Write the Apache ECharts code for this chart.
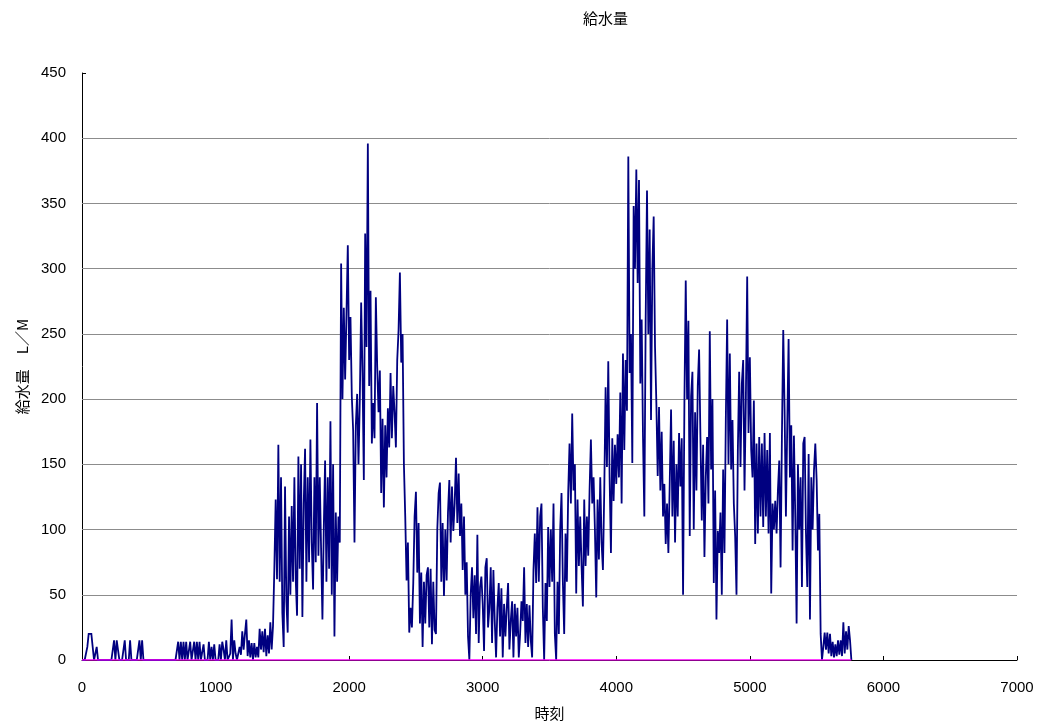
<!DOCTYPE html>
<html>
<head>
<meta charset="utf-8">
<script src="https://cdn.jsdelivr.net/npm/echarts@6/dist/echarts.min.js"></script>
<style>
  html, body { margin: 0; padding: 0; background: #fff; }
  #chart { width: 1042px; height: 727px; }
</style>
</head>
<body>
<div id="chart"></div>
<script>
// Supply water flow (L/M), sampled every STEP seconds of the time axis
const STEP = 10;
const flow = [
  0,0,0,0,10,20,20,20,20,0,
  0,10,0,0,0,0,0,0,0,0,
  0,0,0,0,15,0,15,15,0,0,
  0,0,15,0,0,0,15,0,0,0,
  0,0,0,15,0,15,0,0,0,0,
  0,0,0,0,0,0,0,0,0,0,
  0,0,0,0,0,0,0,0,0,0,
  0,0,14,0,14,0,14,0,14,0,
  0,14,0,0,14,0,14,0,14,0,
  0,12,0,0,0,14,0,10,0,12,
  0,0,0,12,0,14,8,0,15,0,
  0,5,31,0,15,5,0,0,10,4,
  22,8,20,31,3,15,2,13,0,13,
  2,10,2,24,8,22,6,24,3,19,
  5,29,8,26,70,123,62,165,60,140,
  36,10,133,45,21,110,50,118,60,140,
  62,34,156,70,150,33,120,162,60,140,
  75,169,90,54,140,75,197,80,140,85,
  31,100,153,60,140,70,183,50,150,18,
  113,60,110,90,304,200,270,215,265,318,
  230,263,202,176,90,180,204,150,200,274,
  220,138,327,240,396,210,283,166,197,170,
  278,225,190,222,128,185,117,180,140,193,
  163,220,170,210,190,163,230,253,297,228,
  250,150,110,61,90,21,40,25,59,110,
  129,67,105,28,67,10,60,28,65,71,
  25,70,12,60,23,20,100,128,136,60,
  105,49,100,61,113,138,90,133,99,120,
  155,105,143,95,120,69,110,50,75,18,
  0,50,71,32,65,20,96,13,56,64,
  43,7,71,78,25,40,71,13,69,30,
  2,40,59,18,55,2,43,18,40,59,
  8,30,45,2,43,18,40,2,20,45,
  30,71,13,43,10,42,15,2,69,97,
  59,117,60,110,120,40,0,59,30,102,
  56,100,60,120,20,0,60,20,100,128,
  60,20,97,60,128,166,120,189,130,150,
  51,123,72,110,72,41,123,72,110,80,
  130,169,120,140,100,48,123,77,140,90,
  69,130,209,148,229,140,82,170,122,165,
  135,173,140,205,120,235,161,230,191,386,
  220,250,151,348,300,376,289,368,212,261,
  171,110,261,360,250,330,184,300,340,240,
  197,141,194,130,175,110,135,89,120,82,
  135,192,110,168,90,150,110,174,133,170,
  50,197,291,200,260,95,202,221,100,190,
  130,210,238,171,107,165,79,140,171,120,
  252,146,200,59,130,31,99,82,113,50,
  146,82,184,261,150,235,146,184,120,95,
  50,160,221,148,212,230,130,199,294,174,
  232,161,140,199,89,166,97,171,110,166,
  102,174,110,161,97,174,51,120,100,122,
  97,130,153,71,171,253,192,110,180,246,
  140,180,84,172,110,28,150,100,140,56,
  166,171,97,56,158,31,140,100,145,166,
  138,84,112,20,0,10,21,8,21,5,
  20,3,14,2,12,3,15,4,15,3,
  29,5,22,8,26,15,0
];

// Reference (zero) series spanning the measured period
const refTimes = [0, 5760];
const refValues = [0, 0];

// Horizontal guide lines (the top of the axis has none)
const gridValues = [50, 100, 150, 200, 250, 300, 350, 400];

const flowData = flow.map((v, i) => [i * STEP, v]);
const refData = refTimes.map((t, i) => [t, refValues[i]]);

const chart = echarts.init(document.getElementById('chart'), null, { renderer: 'canvas' });

const labelFont = 'Liberation Sans, Arial, sans-serif';
const cjkFont = '"Noto Sans CJK JP", sans-serif';

chart.setOption({
  animation: false,
  backgroundColor: '#ffffff',
  title: {
    text: '給水量',
    left: 578,
    top: 6,
    textStyle: { fontFamily: cjkFont, fontSize: 15, fontWeight: 'normal', color: '#000' }
  },
  grid: { left: 82, right: 25, top: 73, bottom: 67, containLabel: false },
  xAxis: {
    type: 'value',
    min: 0, max: 7000, interval: 1000,
    name: '時刻',
    nameLocation: 'middle',
    nameGap: 46,
    nameTextStyle: { fontFamily: cjkFont, fontSize: 15, color: '#000' },
    axisLine: { show: true, lineStyle: { color: '#000', width: 1 } },
    axisTick: { show: true, inside: true, length: 4, lineStyle: { color: '#000' } },
    axisLabel: { margin: 20, fontSize: 15, fontFamily: labelFont, color: '#000',
                 formatter: v => String(v) },
    splitLine: { show: false }
  },
  yAxis: {
    type: 'value',
    min: 0, max: 450, interval: 50,
    name: '給水量　L／M',
    nameLocation: 'middle',
    nameGap: 52,
    nameTextStyle: { fontFamily: cjkFont, fontSize: 15, color: '#000' },
    axisLine: { show: true, lineStyle: { color: '#000', width: 1 } },
    axisTick: { show: true, inside: true, length: 4, lineStyle: { color: '#000' } },
    axisLabel: { margin: 16, fontSize: 15, fontFamily: labelFont, color: '#000',
                 formatter: v => String(v) },
    splitLine: { show: false }
  },
  series: [
    {
      name: 'guides',
      type: 'line',
      data: [],
      z: 1,
      silent: true,
      markLine: {
        silent: true,
        symbol: 'none',
        label: { show: false },
        lineStyle: { color: '#8c8c8c', width: 1, type: 'solid' },
        data: gridValues.map(v => ({ yAxis: v }))
      }
    },
    {
      name: '給水量',
      type: 'line',
      data: flowData,
      z: 10,
      showSymbol: false,
      symbol: 'none',
      sampling: null,
      lineStyle: { color: '#000080', width: 1.8, join: 'miter', miterLimit: 2 }
    },
    {
      name: 'ref',
      type: 'line',
      data: refData,
      z: 11,
      showSymbol: false,
      symbol: 'none',
      lineStyle: { color: '#ff00ff', width: 1.5 }
    }
  ]
});
</script>
</body>
</html>
